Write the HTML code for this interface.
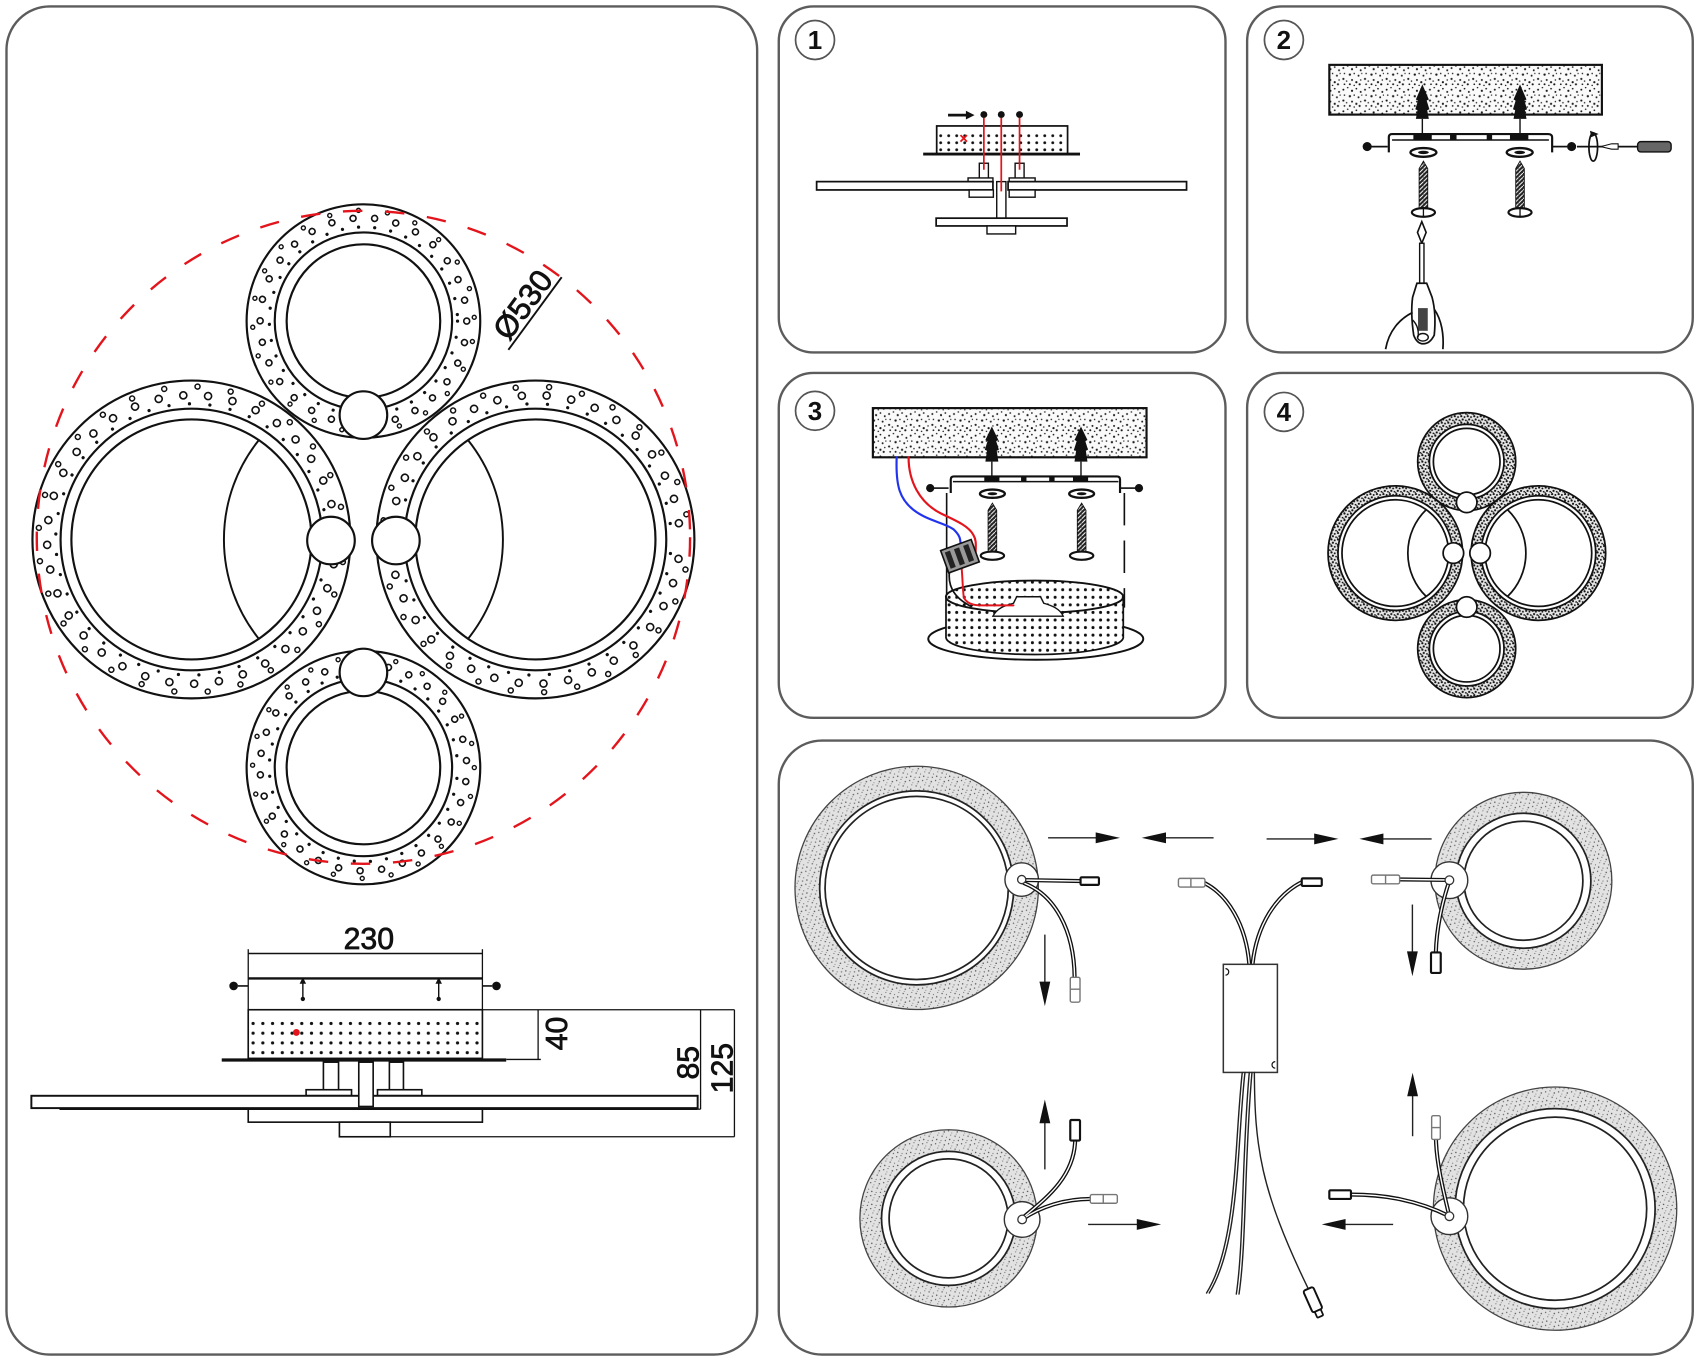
<!DOCTYPE html>
<html><head><meta charset="utf-8">
<style>
html,body{margin:0;padding:0;background:#fff;}
svg{display:block;}
text{font-family:"Liberation Sans",sans-serif;fill:#111;}
.k{fill:none;stroke:#111;}
.d{fill:none;stroke-linecap:round;}
.p{fill:none;stroke:#5c5c5c;stroke-width:2.2;}
.w{fill:#fff;stroke:#111;}
</style></head>
<body>
<svg width="1696" height="1360" viewBox="0 0 1568 1258" preserveAspectRatio="none" xmlns="http://www.w3.org/2000/svg">
<defs>
<pattern id="stipC" width="20" height="20" patternUnits="userSpaceOnUse">
<rect width="20" height="20" fill="#fafafa"/>
<g fill="#1a1a1a">
<circle cx="2" cy="3" r="0.9"/><circle cx="6" cy="1" r="0.7"/><circle cx="10" cy="4" r="1"/><circle cx="14" cy="2" r="0.8"/><circle cx="18" cy="5" r="0.9"/>
<circle cx="3" cy="8" r="0.7"/><circle cx="8" cy="9" r="1.1"/><circle cx="12" cy="8" r="0.7"/><circle cx="16" cy="10" r="0.9"/><circle cx="19" cy="8" r="0.6"/>
<circle cx="2" cy="13" r="1"/><circle cx="5" cy="15" r="0.7"/><circle cx="10" cy="14" r="0.9"/><circle cx="14" cy="16" r="1"/><circle cx="18" cy="14" r="0.7"/>
<circle cx="3" cy="18" r="0.8"/><circle cx="8" cy="18" r="0.9"/><circle cx="12" cy="19" r="0.7"/><circle cx="17" cy="18" r="1"/>
</g>
</pattern>
<pattern id="stip5" width="12" height="12" patternUnits="userSpaceOnUse">
<g fill="#555">
<circle cx="1" cy="2" r="0.6"/><circle cx="5" cy="1" r="0.5"/><circle cx="9" cy="3" r="0.7"/><circle cx="3" cy="6" r="0.5"/>
<circle cx="7" cy="7" r="0.6"/><circle cx="11" cy="8" r="0.5"/><circle cx="2" cy="10" r="0.7"/><circle cx="6" cy="11" r="0.5"/>
<circle cx="10" cy="11" r="0.6"/><circle cx="4" cy="4" r="0.4"/><circle cx="8" cy="5" r="0.4"/>
</g>
</pattern>
<pattern id="stip4" width="6" height="6" patternUnits="userSpaceOnUse">
<rect width="6" height="6" fill="#e8e8e8"/>
<g fill="#111">
<circle cx="1" cy="1" r="1"/><circle cx="4" cy="1.8" r="0.9"/><circle cx="2.3" cy="4" r="1"/><circle cx="5.2" cy="4.8" r="0.8"/><circle cx="0.4" cy="5.6" r="0.6"/>
</g>
</pattern>
<pattern id="dots1" x="866" y="122.3" width="7.4" height="6.5" patternUnits="userSpaceOnUse">
<circle cx="3.7" cy="3.3" r="1.3" fill="#111"/>
</pattern>
<pattern id="dotsS" x="229.5" y="942.2" width="9" height="9" patternUnits="userSpaceOnUse">
<circle cx="4.5" cy="4.5" r="1.5" fill="#111"/>
</pattern>
<pattern id="dots3" x="874" y="535" width="7" height="7" patternUnits="userSpaceOnUse">
<rect width="7" height="7" fill="#fff"/>
<circle cx="3.5" cy="3.5" r="1.4" fill="#111"/>
</pattern>
<pattern id="thread" width="4" height="4" patternUnits="userSpaceOnUse">
<rect width="4" height="4" fill="#222"/>
<line x1="0" y1="4" x2="4" y2="0" stroke="#fff" stroke-width="0.9"/>
</pattern>
</defs>
<rect width="1568" height="1258" fill="#fff"/>

<!-- PANEL OUTLINES -->
<rect class="p" x="6" y="6" width="694" height="1247" rx="40"/>
<rect class="p" x="720" y="6" width="413" height="320" rx="32"/>
<rect class="p" x="1153" y="6" width="412" height="320" rx="32"/>
<rect class="p" x="720" y="345" width="413" height="319" rx="32"/>
<rect class="p" x="1153" y="345" width="412" height="319" rx="32"/>
<rect class="p" x="720" y="685" width="845" height="568" rx="40"/>

<!-- ============ LEFT PANEL: TOP VIEW ============ -->
<g transform="translate(177,499)">
<circle class="d" r="125.5" stroke="#111" stroke-width="3" stroke-dasharray="0.01 19"/>
<circle class="d" r="133.5" stroke="#111" stroke-width="8" stroke-dasharray="0.01 23"/>
<circle class="d" r="133.5" stroke="#fff" stroke-width="5" stroke-dasharray="0.01 23"/>
<circle class="d" r="141.5" stroke="#111" stroke-width="6" stroke-dasharray="0.01 31" stroke-dashoffset="10"/>
<circle class="d" r="141.5" stroke="#fff" stroke-width="3.2" stroke-dasharray="0.01 31" stroke-dashoffset="10"/>
<circle class="k" r="147" stroke-width="2"/>
<circle class="k" r="121" stroke-width="2"/>
<circle class="k" r="111" stroke-width="2"/>
</g>
<g transform="translate(495,499)">
<circle class="d" r="125.5" stroke="#111" stroke-width="3" stroke-dasharray="0.01 19" stroke-dashoffset="6"/>
<circle class="d" r="133.5" stroke="#111" stroke-width="8" stroke-dasharray="0.01 23" stroke-dashoffset="5"/>
<circle class="d" r="133.5" stroke="#fff" stroke-width="5" stroke-dasharray="0.01 23" stroke-dashoffset="5"/>
<circle class="d" r="141.5" stroke="#111" stroke-width="6" stroke-dasharray="0.01 31" stroke-dashoffset="3"/>
<circle class="d" r="141.5" stroke="#fff" stroke-width="3.2" stroke-dasharray="0.01 31" stroke-dashoffset="3"/>
<circle class="k" r="147" stroke-width="2"/>
<circle class="k" r="121" stroke-width="2"/>
<circle class="k" r="111" stroke-width="2"/>
</g>
<path class="k" stroke-width="1.8" d="M239.3 407.1 A147 147 0 0 0 239.3 590.9"/>
<path class="k" stroke-width="1.8" d="M432.7 407.1 A147 147 0 0 1 432.7 590.9"/>
<g transform="translate(336,297)">
<circle class="d" r="87" stroke="#111" stroke-width="3" stroke-dasharray="0.01 15"/>
<circle class="d" r="95.5" stroke="#111" stroke-width="7" stroke-dasharray="0.01 20"/>
<circle class="d" r="95.5" stroke="#fff" stroke-width="4" stroke-dasharray="0.01 20"/>
<circle class="d" r="102.5" stroke="#111" stroke-width="5" stroke-dasharray="0.01 27" stroke-dashoffset="8"/>
<circle class="d" r="102.5" stroke="#fff" stroke-width="2.4" stroke-dasharray="0.01 27" stroke-dashoffset="8"/>
<circle class="k" r="108" stroke-width="2"/>
<circle class="k" r="82" stroke-width="2"/>
<circle class="k" r="71" stroke-width="2"/>
</g>
<g transform="translate(336,710)">
<circle class="d" r="87" stroke="#111" stroke-width="3" stroke-dasharray="0.01 15" stroke-dashoffset="5"/>
<circle class="d" r="95.5" stroke="#111" stroke-width="7" stroke-dasharray="0.01 20" stroke-dashoffset="7"/>
<circle class="d" r="95.5" stroke="#fff" stroke-width="4" stroke-dasharray="0.01 20" stroke-dashoffset="7"/>
<circle class="d" r="102.5" stroke="#111" stroke-width="5" stroke-dasharray="0.01 27"/>
<circle class="d" r="102.5" stroke="#fff" stroke-width="2.4" stroke-dasharray="0.01 27"/>
<circle class="k" r="108" stroke-width="2"/>
<circle class="k" r="82" stroke-width="2"/>
<circle class="k" r="71" stroke-width="2"/>
</g>
<circle class="w" cx="336" cy="384" r="22" stroke-width="2"/>
<circle class="w" cx="336" cy="622" r="22" stroke-width="2"/>
<circle class="w" cx="306" cy="500" r="22" stroke-width="2"/>
<circle class="w" cx="366" cy="500" r="22" stroke-width="2"/>
<circle cx="336" cy="497" r="302" fill="none" stroke="#e3141c" stroke-width="2.2" stroke-dasharray="18 21"/>
<line x1="470" y1="323.6" x2="519.3" y2="256.4" stroke="#111" stroke-width="1.8"/>
<text transform="translate(491.4,287.6) rotate(-53.7)" text-anchor="middle" font-size="29" stroke="#111" stroke-width="0.7">Ø530</text>

<!-- ============ LEFT PANEL: SIDE VIEW ============ -->
<text x="341" y="878" text-anchor="middle" font-size="28" stroke="#111" stroke-width="0.7">230</text>
<g stroke="#111" fill="none">
<line x1="229.5" y1="882" x2="446" y2="882" stroke-width="1.4"/>
<line x1="229.5" y1="878" x2="229.5" y2="934" stroke-width="1.2"/>
<line x1="446" y1="878" x2="446" y2="934" stroke-width="1.2"/>
<line x1="229.5" y1="905" x2="446" y2="905" stroke-width="2.2"/>
<line x1="220" y1="912" x2="229.5" y2="912" stroke-width="1.5"/>
<line x1="446" y1="912" x2="455" y2="912" stroke-width="1.5"/>
<line x1="280" y1="906" x2="280" y2="924" stroke-width="1.3"/>
<line x1="405.6" y1="906" x2="405.6" y2="924" stroke-width="1.3"/>
</g>
<circle cx="216" cy="912" r="4" fill="#111"/>
<circle cx="459" cy="912" r="4" fill="#111"/>
<polygon points="280,904 277,910 283,910" fill="#111"/>
<polygon points="405.6,904 402.6,910 408.6,910" fill="#111"/>
<circle cx="280" cy="924" r="2" fill="#111"/>
<circle cx="405.6" cy="924" r="2" fill="#111"/>
<rect x="229.5" y="934" width="216.5" height="45" fill="#fff" stroke="#111" stroke-width="1.5"/>
<rect x="231" y="942" width="214" height="36" fill="url(#dotsS)"/>
<circle cx="274" cy="955" r="3.2" fill="#e3141c"/>
<line x1="205" y1="980.5" x2="468" y2="980.5" stroke="#111" stroke-width="3"/>
<g stroke="#111" stroke-width="1.2" fill="none">
<line x1="446" y1="934" x2="679" y2="934"/>
<line x1="468" y1="980" x2="500" y2="980"/>
<line x1="497.5" y1="934" x2="497.5" y2="980"/>
<line x1="647.7" y1="934" x2="647.7" y2="1026"/>
<line x1="679" y1="934" x2="679" y2="1051.5"/>
<line x1="360.8" y1="1051.5" x2="679" y2="1051.5"/>
<line x1="645" y1="1026" x2="647.7" y2="1026"/>
</g>
<text transform="translate(524,956) rotate(-90)" text-anchor="middle" font-size="28" stroke="#111" stroke-width="0.7">40</text>
<text transform="translate(646,983) rotate(-90)" text-anchor="middle" font-size="28" stroke="#111" stroke-width="0.7">85</text>
<text transform="translate(677,988) rotate(-90)" text-anchor="middle" font-size="28" stroke="#111" stroke-width="0.7">125</text>
<g fill="#fff" stroke="#111" stroke-width="1.5">
<rect x="299" y="982.5" width="14" height="26"/>
<rect x="360" y="982.5" width="13" height="26"/>
<rect x="283" y="1008" width="42" height="5.5"/>
<rect x="349" y="1008" width="41" height="5.5"/>
<rect x="29" y="1013.6" width="616" height="11.4" stroke-width="1.8"/>
<rect x="331.7" y="982.5" width="13.3" height="41"/>
<rect x="229.5" y="1026" width="216.5" height="12"/>
<rect x="313.8" y="1038" width="47" height="13.5"/>
</g>
<line x1="55" y1="1026" x2="645" y2="1026" stroke="#111" stroke-width="1.6"/>

<!-- ============ PANEL 1 ============ -->
<circle cx="753.5" cy="37" r="18" fill="#fff" stroke="#555" stroke-width="1.6"/>
<text x="753.5" y="45.5" text-anchor="middle" font-size="24" font-weight="bold">1</text>
<rect x="866" y="116.5" width="121" height="26" fill="#fff" stroke="#111" stroke-width="1.6"/>
<rect x="867" y="121" width="119" height="21" fill="url(#dots1)"/>
<line x1="853.5" y1="142.5" x2="998.5" y2="142.5" stroke="#111" stroke-width="2.6"/>
<line x1="876.5" y1="106.5" x2="895" y2="106.5" stroke="#111" stroke-width="2.6"/>
<polygon points="901,106.5 893,102.5 893,110.5" fill="#111"/>
<circle cx="909.6" cy="106" r="3.2" fill="#111"/>
<circle cx="925.7" cy="106" r="3.2" fill="#111"/>
<circle cx="942.6" cy="106" r="3.2" fill="#111"/>
<g fill="#fff" stroke="#111" stroke-width="1.3">
<rect x="905.4" y="151" width="8.4" height="14"/>
<rect x="938.5" y="151" width="8.3" height="14"/>
<rect x="895" y="164.6" width="23" height="4"/>
<rect x="933" y="164.6" width="24" height="4"/>
<rect x="755" y="168" width="163" height="7.7" stroke-width="1.6"/>
<rect x="932" y="168" width="165" height="7.7" stroke-width="1.6"/>
<rect x="896" y="175.7" width="22.4" height="6.7"/>
<rect x="933" y="175.7" width="24" height="6.7"/>
<rect x="921.5" y="168" width="8.5" height="33.8"/>
<rect x="865.5" y="201.8" width="121" height="7.2" stroke-width="1.6"/>
<rect x="912.5" y="209" width="26.5" height="7.4"/>
</g>
<g stroke="#e3141c" stroke-width="1.6">
<line x1="909.6" y1="109" x2="909.6" y2="157"/>
<line x1="925.7" y1="109" x2="925.7" y2="177"/>
<line x1="942.6" y1="109" x2="942.6" y2="157"/>
<path d="M888 125 L894 131 M894 125 L888 131" fill="none"/>
</g>

<!-- ============ PANEL 2 ============ -->
<circle cx="1187" cy="37" r="18" fill="#fff" stroke="#555" stroke-width="1.6"/>
<text x="1187" y="45.5" text-anchor="middle" font-size="24" font-weight="bold">2</text>
<rect x="1229" y="60" width="252" height="46" fill="url(#stipC)" stroke="#111" stroke-width="2"/>
<path d="M1315 78 L1321 92 L1319 93 L1321.5 101 L1319.5 102 L1321 110 L1309 110 L1310.5 102 L1308.5 101 L1311 93 L1309 92 Z" fill="#111"/>
<path d="M1405.3 78 L1411.3 92 L1409.3 93 L1411.8 101 L1409.8 102 L1411.3 110 L1399.3 110 L1400.8 102 L1398.8 101 L1401.3 93 L1399.3 92 Z" fill="#111"/>
<line x1="1315" y1="110" x2="1315" y2="124" stroke="#111" stroke-width="1.3"/>
<line x1="1405.3" y1="110" x2="1405.3" y2="124" stroke="#111" stroke-width="1.3"/>
<path class="k" stroke-width="2" d="M1284 141 L1284 127 Q1284 124 1287 124 L1431 124 Q1435 124 1435 127 L1435 141"/>
<line x1="1287" y1="129.5" x2="1432" y2="129.5" stroke="#111" stroke-width="1.3"/>
<g fill="#111">
<rect x="1306.7" y="124" width="17" height="5.5"/>
<rect x="1340.6" y="124" width="6" height="5.5"/>
<rect x="1374.5" y="124" width="5" height="5.5"/>
<rect x="1396" y="124" width="17" height="5.5"/>
<circle cx="1264" cy="135.6" r="4.2"/>
<circle cx="1453" cy="135.6" r="4.2"/>
</g>
<line x1="1268" y1="135.6" x2="1283" y2="135.6" stroke="#111" stroke-width="1.6"/>
<line x1="1435" y1="135.6" x2="1449" y2="135.6" stroke="#111" stroke-width="1.6"/>
<ellipse cx="1473" cy="136" rx="4" ry="13" fill="none" stroke="#111" stroke-width="1.6"/>
<polygon points="1470,121 1478,124 1471,127" fill="#111"/>
<line x1="1458" y1="135.6" x2="1514" y2="135.6" stroke="#111" stroke-width="1.6"/>
<polygon points="1480,135.6 1490,133 1496,133 1496,138 1490,138" fill="#fff" stroke="#111" stroke-width="1"/>
<rect x="1514" y="131" width="31" height="9.5" rx="3" fill="#666" stroke="#111" stroke-width="1.3"/>
<g fill="#fff" stroke="#111" stroke-width="2.2">
<ellipse cx="1316" cy="141" rx="12" ry="4"/>
<ellipse cx="1405" cy="141" rx="12" ry="4"/>
</g>
<ellipse cx="1316" cy="141" rx="5" ry="1.6" fill="#111"/>
<ellipse cx="1405" cy="141" rx="5" ry="1.6" fill="#111"/>
<polygon points="1316,149 1320,156 1320,193 1312,193 1312,156" fill="url(#thread)" stroke="#111" stroke-width="0.8"/>
<polygon points="1405.3,149 1409.3,156 1409.3,193 1401.3,193 1401.3,156" fill="url(#thread)" stroke="#111" stroke-width="0.8"/>
<ellipse cx="1316" cy="196.5" rx="10.7" ry="4" fill="#fff" stroke="#111" stroke-width="2"/>
<ellipse cx="1405.3" cy="196.5" rx="10.7" ry="4" fill="#fff" stroke="#111" stroke-width="2"/>
<line x1="1316" y1="192.5" x2="1316" y2="200.5" stroke="#111" stroke-width="1.2"/>
<line x1="1405.3" y1="192.5" x2="1405.3" y2="200.5" stroke="#111" stroke-width="1.2"/>
<polygon points="1314.5,205 1318.5,215 1314.5,225 1310.5,215" fill="#fff" stroke="#111" stroke-width="1.5"/>
<rect x="1312.5" y="225" width="4" height="37" fill="#fff" stroke="#111" stroke-width="1.3"/>
<path d="M1310 262 L1319 262 L1324 275 Q1328 290 1326 310 Q1322 318 1316 318 Q1310 318 1307 310 Q1304 290 1306 275 Z" fill="#fff" stroke="#111" stroke-width="1.6"/>
<path d="M1311 285 L1320 285 L1320 306 L1311 306 Z" fill="#444"/>
<ellipse cx="1315.5" cy="312" rx="5" ry="3.5" fill="#fff" stroke="#111" stroke-width="1.3"/>
<path class="k" stroke-width="1.6" d="M1281 323 C1284 306 1294 295 1306 289"/>
<path class="k" stroke-width="1.6" d="M1326 286 C1333 296 1335 310 1334 323"/>
<path class="k" stroke-width="1.3" d="M1306 296 C1310 300 1312 305 1311 312"/>

<!-- ============ PANEL 3 ============ -->
<circle cx="753.5" cy="380" r="18" fill="#fff" stroke="#555" stroke-width="1.6"/>
<text x="753.5" y="388.5" text-anchor="middle" font-size="24" font-weight="bold">3</text>
<rect x="807" y="377.5" width="253" height="45.5" fill="url(#stipC)" stroke="#111" stroke-width="2"/>
<path d="M917 394.5 L923 407 L921 408 L923.5 416 L921.5 417 L923 427 L911 427 L912.5 417 L910.5 416 L913 408 L911 407 Z" fill="#111"/>
<path d="M999.4 394.5 L1005.4 407 L1003.4 408 L1005.9 416 L1003.9 417 L1005.4 427 L993.4 427 L994.9 417 L992.9 416 L995.4 408 L993.4 407 Z" fill="#111"/>
<line x1="917" y1="427" x2="917" y2="440.7" stroke="#111" stroke-width="1.3"/>
<line x1="999.4" y1="427" x2="999.4" y2="440.7" stroke="#111" stroke-width="1.3"/>
<path class="k" stroke-width="2" d="M879 456 L879 443.5 Q879 440.7 882 440.7 L1032.5 440.7 Q1035.5 440.7 1035.5 443.5 L1035.5 456"/>
<line x1="881" y1="445.5" x2="1034" y2="445.5" stroke="#111" stroke-width="1.3"/>
<g fill="#111">
<rect x="910" y="440.7" width="14" height="5"/>
<rect x="944" y="440.7" width="5" height="5"/>
<rect x="970" y="440.7" width="5" height="5"/>
<rect x="992" y="440.7" width="14" height="5"/>
<circle cx="860" cy="451.5" r="3.8"/>
<circle cx="1053" cy="451.5" r="3.8"/>
</g>
<line x1="863" y1="451.5" x2="877" y2="451.5" stroke="#111" stroke-width="1.5"/>
<line x1="1036" y1="451.5" x2="1050" y2="451.5" stroke="#111" stroke-width="1.5"/>
<g fill="#fff" stroke="#111" stroke-width="2.2">
<ellipse cx="917.5" cy="456.7" rx="11.5" ry="3.8"/>
<ellipse cx="1000" cy="456.7" rx="11.5" ry="3.8"/>
</g>
<ellipse cx="917.5" cy="456.7" rx="4.5" ry="1.4" fill="#111"/>
<ellipse cx="1000" cy="456.7" rx="4.5" ry="1.4" fill="#111"/>
<polygon points="917.5,465.4 921.5,472 921.5,510 913.5,510 913.5,472" fill="url(#thread)" stroke="#111" stroke-width="0.8"/>
<polygon points="1000,465.4 1004,472 1004,510 996,510 996,472" fill="url(#thread)" stroke="#111" stroke-width="0.8"/>
<ellipse cx="917.5" cy="514" rx="10.8" ry="3.8" fill="#fff" stroke="#111" stroke-width="2"/>
<ellipse cx="1000" cy="514" rx="10.8" ry="3.8" fill="#fff" stroke="#111" stroke-width="2"/>
<line x1="875.2" y1="456" x2="875.2" y2="558" stroke="#111" stroke-width="1.5"/>
<line x1="1039.5" y1="456" x2="1039.5" y2="562" stroke="#111" stroke-width="1.5" stroke-dasharray="30 14"/>
<ellipse cx="957.6" cy="591" rx="99.4" ry="19.3" fill="#fff" stroke="#111" stroke-width="1.8"/>
<path d="M874.6 552 L874.6 590 A82 16 0 0 0 1038.5 590 L1038.5 552 A82 15 0 0 0 874.6 552 Z" fill="url(#dots3)" stroke="#111" stroke-width="1.6"/>
<ellipse cx="956.5" cy="552" rx="82" ry="15" fill="url(#dots3)" stroke="#111" stroke-width="1.8"/>
<path d="M918 570 C922 562 930 560 937 558 L940 552 L962 552 L965 558 C972 560 980 563 983 570 Z" fill="#fff" stroke="#111" stroke-width="1.3"/>
<path class="d" stroke="#2233ee" stroke-width="2" d="M829 423 C828 450 832 462 845 472 C858 482 875 484 882 490 C887 495 888 498 888 503"/>
<path class="d" stroke="#e3141c" stroke-width="2" d="M840 423 C840 445 850 465 870 475 C885 482 896 487 900 495 C903 500 902 505 902 511"/>
<path class="d" stroke="#111" stroke-width="1.6" d="M878 527 C876 540 880 552 898 561"/>
<path class="d" stroke="#e3141c" stroke-width="1.8" d="M889 525 C890 535 890 545 891 552 C893 558 900 560 908 560 L937 560"/>
<g transform="translate(887.5,514.5) rotate(-20)">
<rect x="-15" y="-11" width="30" height="22" fill="#999" stroke="#111" stroke-width="1.5"/>
<rect x="-12" y="-8" width="5" height="16" fill="#222"/>
<rect x="-3" y="-8" width="5" height="16" fill="#222"/>
<rect x="6" y="-8" width="5" height="16" fill="#222"/>
</g>

<!-- ============ PANEL 4 ============ -->
<circle cx="1187" cy="381" r="18" fill="#fff" stroke="#555" stroke-width="1.6"/>
<text x="1187" y="389.5" text-anchor="middle" font-size="24" font-weight="bold">4</text>
<g fill="none">
<circle cx="1290" cy="511.6" r="57.6" stroke="url(#stip4)" stroke-width="9.2"/>
<circle cx="1422.3" cy="511.6" r="57.6" stroke="url(#stip4)" stroke-width="9.2"/>
<circle cx="1356" cy="427" r="39.9" stroke="url(#stip4)" stroke-width="10.8"/>
<circle cx="1356" cy="600" r="39.9" stroke="url(#stip4)" stroke-width="10.8"/>
<g stroke="#111" stroke-width="1.6">
<circle cx="1290" cy="511.6" r="62.2"/><circle cx="1290" cy="511.6" r="53"/><circle cx="1290" cy="511.6" r="49.3"/>
<circle cx="1422.3" cy="511.6" r="62.2"/><circle cx="1422.3" cy="511.6" r="53"/><circle cx="1422.3" cy="511.6" r="49.3"/>
<circle cx="1356" cy="427" r="45.3"/><circle cx="1356" cy="427" r="34.5"/><circle cx="1356" cy="427" r="30.8"/>
<circle cx="1356" cy="600" r="45.3"/><circle cx="1356" cy="600" r="34.5"/><circle cx="1356" cy="600" r="30.8"/>
<path d="M1318.6 471.4 A56 56 0 0 0 1318.6 551.8"/>
<path d="M1393.7 471.4 A56 56 0 0 1 1393.7 551.8"/>
</g>
</g>
<g fill="#fff" stroke="#111" stroke-width="1.6">
<circle cx="1356" cy="464.7" r="9.5"/>
<circle cx="1356" cy="561.5" r="9.5"/>
<circle cx="1343.7" cy="511.6" r="9.5"/>
<circle cx="1368.4" cy="511.6" r="9.5"/>
</g>

<!-- ============ PANEL 5 ============ -->
<g fill="none">
<circle cx="847.5" cy="821.3" r="101.1" stroke="#e2e2e2" stroke-width="22.8"/>
<circle cx="847.5" cy="821.3" r="101.1" stroke="url(#stip5)" stroke-width="22.8"/>
<circle cx="847.5" cy="821.3" r="112.5" stroke="#444" stroke-width="1.2"/>
<circle cx="847.5" cy="821.3" r="89.7" stroke="#222" stroke-width="1.6"/>
<circle cx="847.5" cy="821.3" r="84.7" stroke="#222" stroke-width="1.6"/>

<circle cx="1408.4" cy="814.7" r="72.1" stroke="#e2e2e2" stroke-width="19.4"/>
<circle cx="1408.4" cy="814.7" r="72.1" stroke="url(#stip5)" stroke-width="19.4"/>
<circle cx="1408.4" cy="814.7" r="81.8" stroke="#444" stroke-width="1.2"/>
<circle cx="1408.4" cy="814.7" r="62.4" stroke="#222" stroke-width="1.6"/>
<circle cx="1408.4" cy="814.7" r="55" stroke="#222" stroke-width="1.6"/>

<circle cx="877" cy="1127" r="72" stroke="#e2e2e2" stroke-width="20"/>
<circle cx="877" cy="1127" r="72" stroke="url(#stip5)" stroke-width="20"/>
<circle cx="877" cy="1127" r="82" stroke="#444" stroke-width="1.2"/>
<circle cx="877" cy="1127" r="62" stroke="#222" stroke-width="1.6"/>
<circle cx="877" cy="1127" r="55" stroke="#222" stroke-width="1.6"/>

<circle cx="1437.7" cy="1118" r="102.5" stroke="#e2e2e2" stroke-width="20"/>
<circle cx="1437.7" cy="1118" r="102.5" stroke="url(#stip5)" stroke-width="20"/>
<circle cx="1437.7" cy="1118" r="112.5" stroke="#444" stroke-width="1.2"/>
<circle cx="1437.7" cy="1118" r="92.5" stroke="#222" stroke-width="1.6"/>
<circle cx="1437.7" cy="1118" r="84.7" stroke="#222" stroke-width="1.6"/>
</g>
<g fill="#fff" stroke="#333" stroke-width="1.3">
<circle cx="944.6" cy="813.6" r="15.5"/>
<circle cx="1340" cy="814.2" r="17"/>
<circle cx="945" cy="1128" r="16.5"/>
<circle cx="1340" cy="1125" r="17"/>
</g>
<g class="d" stroke="#111" stroke-width="3.8">
<path d="M945 814 L999 815"/>
<path d="M947 817 C975 828 993 860 993.5 904"/>
<path d="M1340 814 L1294 813.5"/>
<path d="M1340 815 C1333 835 1328 860 1327.5 881"/>
<path d="M1155 892 C1152 855 1135 828 1114 817"/>
<path d="M1158 892 C1162 855 1180 828 1203.5 816"/>
<path d="M945 1127 C965 1110 993 1090 994 1055"/>
<path d="M945 1128 C962 1116 985 1109 1008 1109"/>
<path d="M1340 1125 C1334 1100 1328 1075 1327.6 1054"/>
<path d="M1340 1125 C1310 1110 1280 1105 1249 1105"/>
</g>
<g class="d" stroke="#fff" stroke-width="1.3">
<path d="M945 814 L999 815"/>
<path d="M947 817 C975 828 993 860 993.5 904"/>
<path d="M1340 814 L1294 813.5"/>
<path d="M1340 815 C1333 835 1328 860 1327.5 881"/>
<path d="M1155 892 C1152 855 1135 828 1114 817"/>
<path d="M1158 892 C1162 855 1180 828 1203.5 816"/>
<path d="M945 1127 C965 1110 993 1090 994 1055"/>
<path d="M945 1128 C962 1116 985 1109 1008 1109"/>
<path d="M1340 1125 C1334 1100 1328 1075 1327.6 1054"/>
<path d="M1340 1125 C1310 1110 1280 1105 1249 1105"/>
</g>
<g fill="#fff" stroke="#333" stroke-width="1.2">
<circle cx="944.6" cy="813.6" r="3.8"/>
<circle cx="1340" cy="814.2" r="4"/>
<circle cx="945" cy="1128" r="4"/>
<circle cx="1340" cy="1125" r="4"/>
</g>
<g fill="#fff" stroke="#111" stroke-width="2">
<rect x="999" y="811.5" width="17" height="7" rx="1"/>
<rect x="1323" y="881" width="9" height="19" rx="1"/>
<rect x="1203.5" y="812.5" width="18.5" height="7" rx="1"/>
<rect x="989.5" y="1036" width="9" height="19" rx="1"/>
<rect x="1229" y="1101" width="20" height="8" rx="1"/>
</g>
<g fill="#fff" stroke="#777" stroke-width="1.3">
<rect x="989.5" y="904" width="9" height="23" rx="1.5"/>
<line x1="989.5" y1="915" x2="998.5" y2="915"/>
<rect x="1268" y="809.5" width="26" height="8" rx="1.5"/>
<line x1="1281" y1="809.5" x2="1281" y2="817.5"/>
<rect x="1089.5" y="812.5" width="24.5" height="8" rx="1.5"/>
<line x1="1101" y1="812.5" x2="1101" y2="820.5"/>
<rect x="1008" y="1105" width="25" height="8" rx="1.5"/>
<line x1="1020" y1="1105" x2="1020" y2="1113"/>
<rect x="1323.6" y="1032" width="8" height="22" rx="1.5"/>
<line x1="1323.6" y1="1043" x2="1331.6" y2="1043"/>
</g>
<rect x="1131" y="892" width="50" height="100" fill="#fff" stroke="#333" stroke-width="1.4"/>
<path class="k" stroke-width="1.1" d="M1133 896 A3 3 0 0 1 1133 902"/>
<path class="k" stroke-width="1.1" d="M1179 982 A3 3 0 0 0 1179 988"/>
<g class="d" stroke="#222" stroke-width="1.3">
<path d="M1148.5 992 C1141 1060 1144 1150 1115.5 1196"/>
<path d="M1151 992 C1143.5 1060 1146.5 1150 1118 1196"/>
<path d="M1155 992 C1148 1070 1150 1150 1143 1197"/>
<path d="M1157.5 992 C1150.5 1070 1152.5 1150 1145.5 1197"/>
<path d="M1159.7 992 C1160 1060 1165 1100 1209 1191"/>
</g>
<g transform="translate(1215,1205) rotate(-24)">
<rect x="-5" y="-14" width="10" height="22" rx="2" fill="#fff" stroke="#111" stroke-width="1.8"/>
<rect x="-3" y="8" width="6" height="6" rx="1" fill="#fff" stroke="#111" stroke-width="1.6"/>
</g>
<g stroke="#222" stroke-width="1.3">
<line x1="969" y1="775" x2="1015" y2="775"/>
<line x1="1076" y1="775" x2="1122" y2="775"/>
<line x1="1171" y1="776" x2="1217" y2="776"/>
<line x1="1277" y1="776" x2="1323.6" y2="776"/>
<line x1="966" y1="864.5" x2="966" y2="910"/>
<line x1="1305.8" y1="836.7" x2="1305.8" y2="882"/>
<line x1="966" y1="1037" x2="966" y2="1081.7"/>
<line x1="1306" y1="1012" x2="1306" y2="1051"/>
<line x1="1006" y1="1132.6" x2="1053" y2="1132.6"/>
<line x1="1242" y1="1132.6" x2="1288" y2="1132.6"/>
</g>
<g fill="#111">
<polygon points="1035.5,775 1013,770 1013,780"/>
<polygon points="1055.5,775 1078,770 1078,780"/>
<polygon points="1237.4,776 1215,771 1215,781"/>
<polygon points="1256.8,776 1279,771 1279,781"/>
<polygon points="966,930.7 961,908 971,908"/>
<polygon points="1305.8,903 1300.8,880 1310.8,880"/>
<polygon points="966,1017 961,1039 971,1039"/>
<polygon points="1306,992.3 1301,1014 1311,1014"/>
<polygon points="1073.5,1132.6 1051,1127.6 1051,1137.6"/>
<polygon points="1222,1132.6 1244,1127.6 1244,1137.6"/>
</g>
</svg>
</body></html>
